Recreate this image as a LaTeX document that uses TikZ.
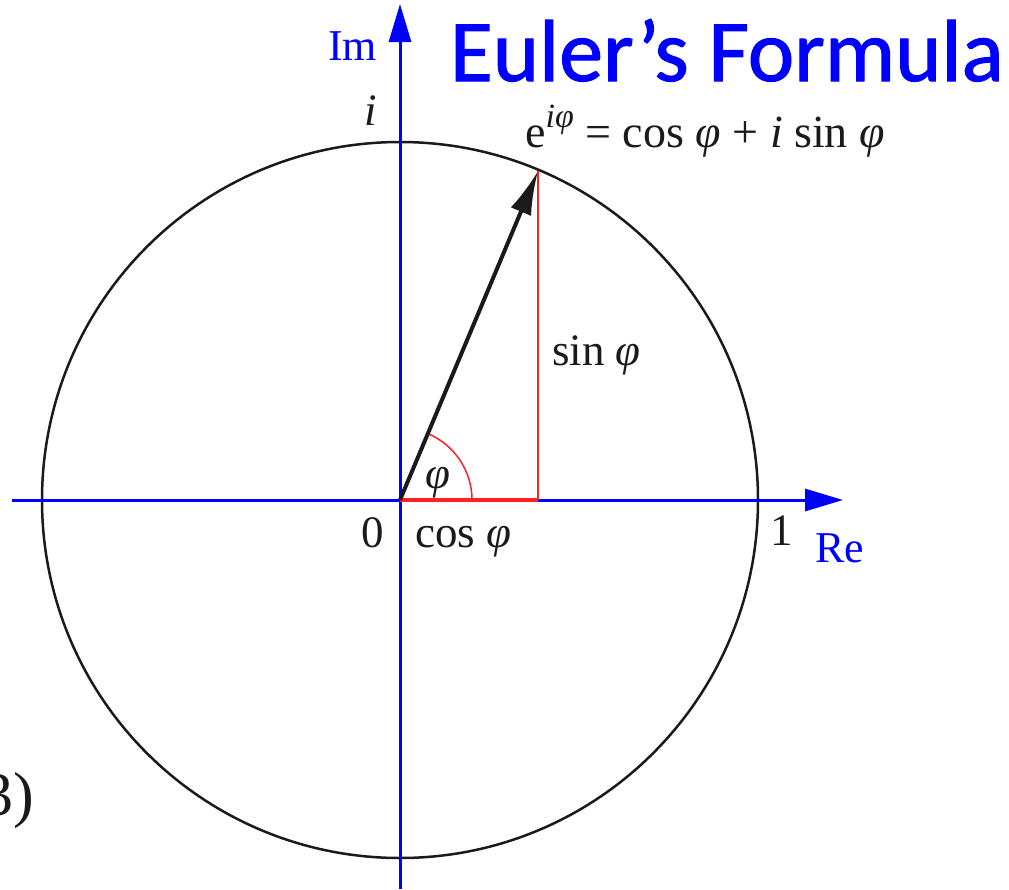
\documentclass[tikz,border=0pt]{standalone}
\usepackage{fontspec}
\setmainfont{Liberation Serif}
\newfontfamily\titlefont{Carlito}[FakeBold=1.2]
\usetikzlibrary{arrows.meta, positioning}
\definecolor{axisblue}{HTML}{0000FF}
\definecolor{legred}{HTML}{FF2020}
\definecolor{ink}{HTML}{1A1A1A}

\newcommand{\vphi}{\textit{φ}}
\newcommand{\supexp}[1]{\raisebox{0.42em}{\fontsize{34}{38}\selectfont #1}}

\begin{document}
\begin{tikzpicture}[x=1pt, y=-1pt,
    every node/.style={inner sep=0pt, text=ink},
    lbl/.style={anchor=base west, font=\fontsize{45}{50}\selectfont},
    axlbl/.style={lbl, text=axisblue, font=\fontsize{44}{50}\selectfont},
    axis/.style={draw=axisblue, line width=3pt,
                 -{Triangle[length=38pt, width=22pt]}},
    leg/.style={draw=legred},
    vec/.style={draw=ink, line width=4pt,
                -{Latex[length=44pt, width=22pt]}}
  ]
    \useasboundingbox (0,0) rectangle (1009,889);

    \coordinate (O) at (400,500);
    \coordinate (P) at (538,171);
    \coordinate (Q) at (538,500);
    \coordinate (A) at (472,500);
    \coordinate (W) at (12,500);
    \coordinate (E) at (843,500);
    \coordinate (S) at (400,889);
    \coordinate (N) at (400,4);

    \draw[ink, line width=2.5pt] (O) circle[radius=358];

    \draw[axis] (W) -- (E);
    \draw[axis] (S) -- (N);

    \draw[leg, line width=1.5pt] (A) arc[start angle=0, end angle=-67.2, radius=72];
    \draw[leg, line width=2pt] (Q) -- (P);
    \draw[leg, line width=4pt] (O) -- (Q);
    \draw[vec] (O) -- (P);

    \node[axlbl] (im) at (328,60) {Im};
    \node[axlbl] (re) at (815,562) {Re};
    \node[lbl] (imunit) at (364,125) {\textit{i}};
    \node[lbl] (zero) at (361,547) {0};
    \node[lbl] (one) at (770,545) {1};
    \node[lbl] (cosphi) at (415,547) {cos \vphi};
    \node[lbl] (sinphi) at (552,365) {sin \vphi};
    \node[lbl] (angle) at (425,488) {\vphi};
    \node[lbl, font=\fontsize{46}{50}\selectfont] (euler) at (525,147)
      {e\supexp{\textit{iφ}} = cos \vphi{} + \textit{i} sin \vphi};
    \node[anchor=base west, font=\fontsize{62}{66}\selectfont] (part) at (-18,815) {3)};

    \node[anchor=base east, text=axisblue, font=\titlefont\fontsize{88}{92}\selectfont]
      (title) at (1004,81) {Euler’s Formula};
\end{tikzpicture}
\end{document}
